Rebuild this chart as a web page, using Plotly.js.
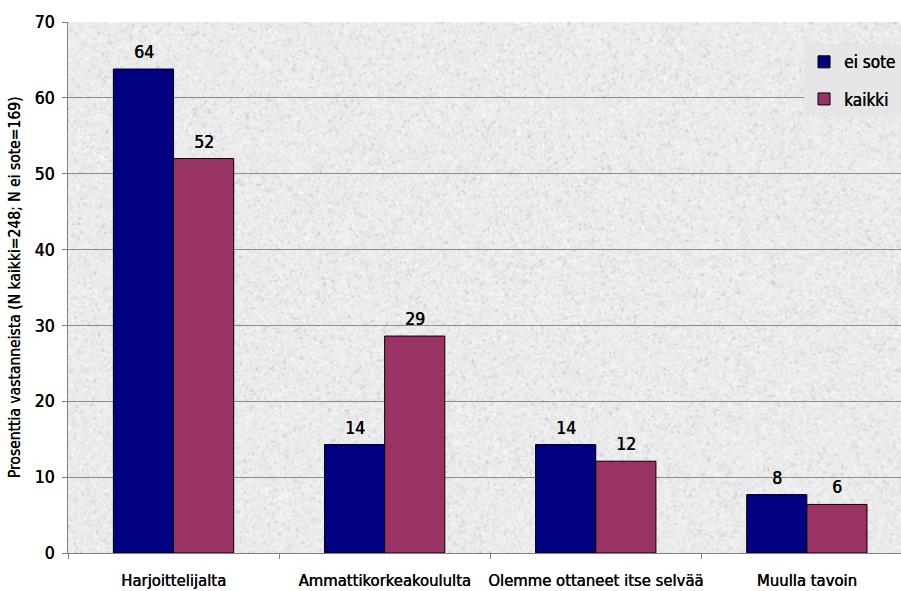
<!DOCTYPE html>
<html>
<head>
<meta charset="utf-8">
<script src="https://cdn.plot.ly/plotly-3.0.1.min.js"></script>
<style>
  html, body { margin: 0; padding: 0; background: #ffffff; }
  #chart { width: 901px; height: 591px; }
</style>
</head>
<body>
<div id="chart"></div>
<script>
// Survey answers: where the respondents learned it (percent of respondents)
const categories = ['Harjoittelijalta', 'Ammattikorkeakoululta', 'Olemme ottaneet itse selvää', 'Muulla tavoin'];
const seriesNames = ['ei sote', 'kaikki'];
const eiSote = [63.8, 14.3, 14.3, 7.7];
const kaikki = [52.0, 28.6, 12.1, 6.4];
const yTicks = [0, 10, 20, 30, 40, 50, 60, 70];

const FONT = '"DejaVu Sans Condensed", "Liberation Sans Narrow", sans-serif';

// Light granite fill for the plot area: soft blotches from a small deterministic generator,
// drawn at half resolution and scaled up with smoothing
function graniteTexture(w, h) {
  const sw = Math.ceil(w / 2), sh = Math.ceil(h / 2);
  const small = document.createElement('canvas');
  small.width = sw; small.height = sh;
  const sctx = small.getContext('2d');
  const img = sctx.createImageData(sw, sh);
  let s = 987654321;
  const rnd = () => { s = (Math.imul(s, 1664525) + 1013904223) >>> 0; return s / 4294967296; };
  for (let i = 0; i < sw * sh; i++) {
    let v = 235 + (rnd() - 0.5) * 16;
    const r = rnd();
    if (r < 0.05) v -= 14 + rnd() * 14;
    else if (r > 0.93) v += 8;
    v = Math.max(0, Math.min(255, v));
    img.data[i * 4] = v; img.data[i * 4 + 1] = v; img.data[i * 4 + 2] = v; img.data[i * 4 + 3] = 255;
  }
  sctx.putImageData(img, 0, 0);
  const c = document.createElement('canvas');
  c.width = w; c.height = h;
  const ctx = c.getContext('2d');
  ctx.imageSmoothingEnabled = true;
  ctx.drawImage(small, 0, 0, w, h);
  return c.toDataURL();
}

const colors = ['#000080', '#993366'];
const values = [eiSote, kaikki];

const traces = values.map((vals, i) => ({
  type: 'bar',
  name: seriesNames[i],
  x: categories,
  y: vals,
  legendgroup: 'g' + i,
  marker: { color: colors[i], line: { color: '#000000', width: 1 } },
  hoverinfo: 'x+y+name'
}));

// Slightly heavier text: a hairline shadow thickens the strokes
const textFont = (size) => ({ family: FONT, size: size, color: '#000000', shadow: '0.45px 0 0 #000000' });

// Value labels above each bar, shifted to the bar of its series
const BAR_HALF = 30;
const annotations = [];
values.forEach((vals, i) => {
  vals.forEach((v, j) => {
    annotations.push({
      x: categories[j], y: v, xref: 'x', yref: 'y',
      text: String(Math.round(v)),
      showarrow: false,
      xshift: i === 0 ? -BAR_HALF : BAR_HALF,
      yanchor: 'bottom', yshift: 5,
      font: textFont(17.5)
    });
  });
});

const layout = {
  width: 901, height: 591,
  margin: { l: 68, r: 0, t: 22, b: 38, pad: 0, autoexpand: false },
  paper_bgcolor: '#ffffff',
  plot_bgcolor: 'rgba(0,0,0,0)',
  font: textFont(17),
  barmode: 'group',
  bargap: 0.43,
  bargroupgap: 0,
  showlegend: true,
  legend: {
    x: 0.8836, xanchor: 'left', y: 0.958, yanchor: 'top',
    bgcolor: '#e6e6e6', borderwidth: 0,
    traceorder: 'grouped', tracegroupgap: 12,
    itemwidth: 30,
    font: textFont(17)
  },
  xaxis: {
    type: 'category',
    range: [-0.5, 3.446],
    showline: true, linecolor: '#808080', linewidth: 1,
    ticks: 'outside', tickson: 'boundaries', ticklen: 5, tickcolor: '#808080',
    showgrid: false,
    tickangle: 0,
    automargin: false,
    tickfont: textFont(16.5),
    ticklabelstandoff: 12
  },
  yaxis: {
    range: [0, 70],
    tickvals: yTicks,
    showline: true, linecolor: '#808080', linewidth: 1,
    ticks: 'outside', ticklen: 5, tickcolor: '#808080',
    showgrid: true, gridcolor: '#8c8c8c', gridwidth: 1,
    zeroline: false,
    automargin: false,
    tickfont: textFont(17.5),
    ticklabelstandoff: 4,
    title: {
      text: 'Prosenttia vastanneista (N kaikki=248; N ei sote=169)',
      font: textFont(15.5),
      standoff: 10
    }
  },
  images: [{
    source: graniteTexture(833, 531),
    xref: 'paper', yref: 'paper',
    x: 0, y: 1, sizex: 1, sizey: 1,
    xanchor: 'left', yanchor: 'top',
    sizing: 'stretch', layer: 'below'
  }],
  annotations: annotations
};

Plotly.newPlot('chart', traces, layout, { displayModeBar: false, staticPlot: true });
</script>
</body>
</html>
